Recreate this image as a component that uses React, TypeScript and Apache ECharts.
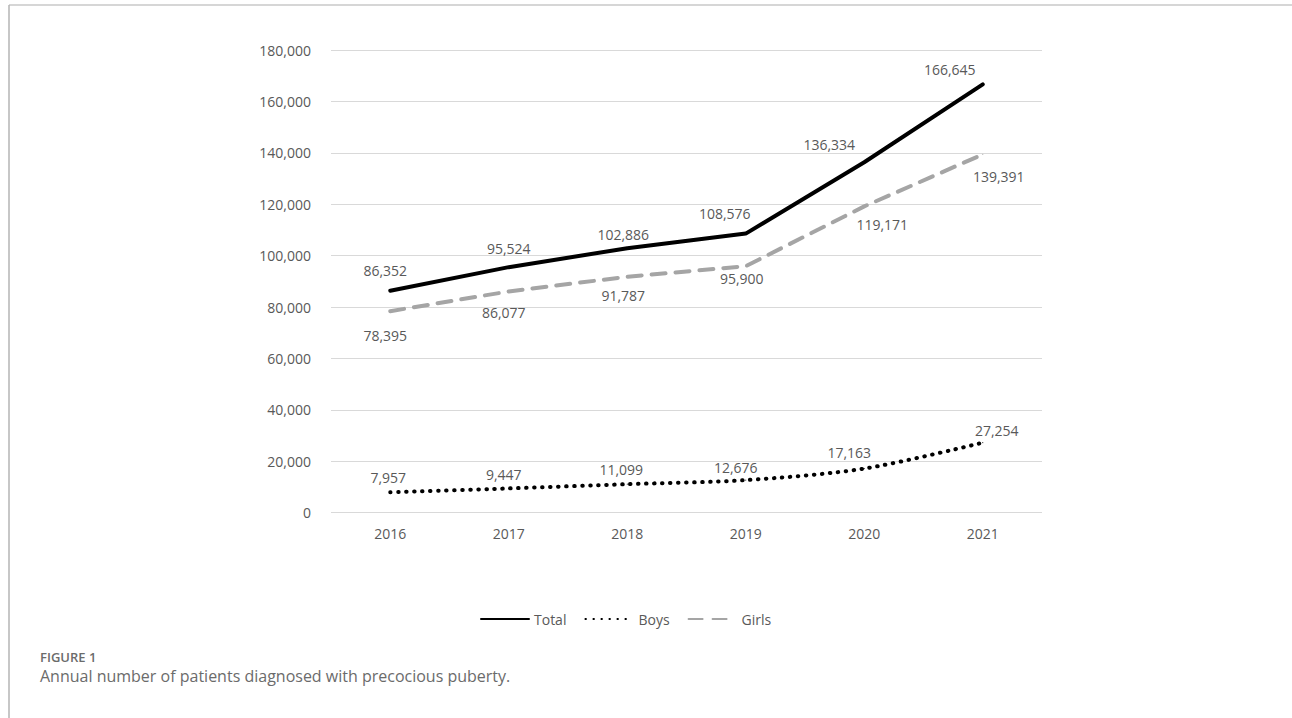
import React, { useEffect, useRef } from "react";
import * as echarts from "echarts";

const years = ["2016", "2017", "2018", "2019", "2020", "2021"];
const totalValues = [86352, 95524, 102886, 108576, 136334, 166645];
const boysValues = [7957, 9447, 11099, 12676, 17163, 27254];
const girlsValues = [78395, 86077, 91787, 95900, 119171, 139391];
const yTicks = [0, 20000, 40000, 60000, 80000, 100000, 120000, 140000, 160000, 180000];

const figureLabel = "FIGURE 1";
const captionText = "Annual number of patients diagnosed with precocious puberty.";

// label offsets (relative to each point), styling only
const totalLabelOffsets = [[-5, -20], [0, -19], [-4, -14], [-21, -20], [-35, -18], [-33, -15]];
const girlsLabelOffsets = [[-5, 24], [-5, 21], [-4, 19], [-4, 12], [18, 18], [16, 22]];
const boysLabelOffsets = [[-2, -15], [-5, -14], [-6, -15], [-10, -13], [-15, -16], [14, -12]];

const FONT = "'Open Sans', 'Noto Sans', sans-serif";
const fmt = (v: number) => v.toLocaleString("en-US");

function withLabels(values: number[], offsets: number[][]) {
  return values.map((v, i) => ({
    value: v,
    label: { offset: offsets[i] },
  }));
}

export default function App() {
  const ref = useRef<HTMLDivElement>(null);
  useEffect(() => {
    if (!ref.current) return;
    const chart = echarts.init(ref.current, null, { renderer: "svg" });
    const labelBase = {
      show: true,
      position: "inside",
      color: "#595959",
      fontSize: 14,
      fontFamily: FONT,
      formatter: (p: any) => fmt(p.value),
    };
    chart.setOption({
      animation: false,
      backgroundColor: "#ffffff",
      grid: { left: 331, right: 250, top: 50, bottom: 205.3, containLabel: false },
      legend: {
        left: 475,
        top: 607,
        itemWidth: 48,
        itemHeight: 14,
        itemGap: 18,
        textStyle: { color: "#595959", fontSize: 14, fontFamily: FONT },
        itemStyle: { opacity: 0 },
        data: ["Total", "Boys", "Girls"],
      },
      xAxis: {
        type: "category",
        data: years,
        boundaryGap: true,
        axisLine: { show: false },
        axisTick: { show: false },
        axisLabel: { color: "#595959", fontSize: 14, fontFamily: FONT, margin: 14 },
      },
      yAxis: {
        type: "value",
        min: yTicks[0],
        max: yTicks[yTicks.length - 1],
        interval: yTicks[1] - yTicks[0],
        axisLine: { show: false },
        axisTick: { show: false },
        axisLabel: {
          color: "#595959",
          fontSize: 14,
          fontFamily: FONT,
          margin: 20,
          formatter: (v: number) => fmt(v),
        },
        splitLine: { lineStyle: { color: "#d9d9d9", width: 1 } },
      },
      series: [
        {
          name: "Total",
          type: "line",
          data: withLabels(totalValues, totalLabelOffsets),
          symbol: "circle",
          symbolSize: 1,
          itemStyle: { color: "#000000" },
          lineStyle: { color: "#000000", width: 4, cap: "round" },
          label: labelBase,
          z: 3,
        },
        {
          name: "Boys",
          type: "line",
          data: withLabels(boysValues, boysLabelOffsets),
          smooth: 0.3,
          symbol: "circle",
          symbolSize: 1,
          itemStyle: { color: "#000000" },
          lineStyle: { color: "#000000", width: 4, type: [0.5, 7.5], cap: "round" },
          label: labelBase,
          z: 2,
        },
        {
          name: "Girls",
          type: "line",
          data: withLabels(girlsValues, girlsLabelOffsets),
          symbol: "circle",
          symbolSize: 1,
          itemStyle: { color: "#a5a5a5" },
          lineStyle: { color: "#a5a5a5", width: 4, type: [14, 10], cap: "round" },
          label: labelBase,
          z: 2,
        },
      ],
      graphic: [
        {
          type: "line",
          shape: { x1: 9, y1: 5, x2: 1292, y2: 5 },
          style: { stroke: "#c8c8c8", lineWidth: 1.5 },
          silent: true,
        },
        {
          type: "line",
          shape: { x1: 9, y1: 5, x2: 9, y2: 718 },
          style: { stroke: "#b4b4b4", lineWidth: 1.5 },
          silent: true,
        },
        {
          type: "text",
          left: 40,
          top: 650,
          style: {
            text: figureLabel,
            fill: "#6b6b6b",
            font: `600 13px ${FONT}`,
          },
        },
        {
          type: "text",
          left: 40,
          top: 668,
          style: {
            text: captionText,
            fill: "#6b6b6b",
            font: `400 16px ${FONT}`,
          },
        },
      ],
    });
    return () => chart.dispose();
  }, []);
  return (
    <div
      ref={ref}
      style={{ position: "fixed", left: 0, top: 0, width: 1292, height: 718, background: "#fff" }}
    />
  );
}
